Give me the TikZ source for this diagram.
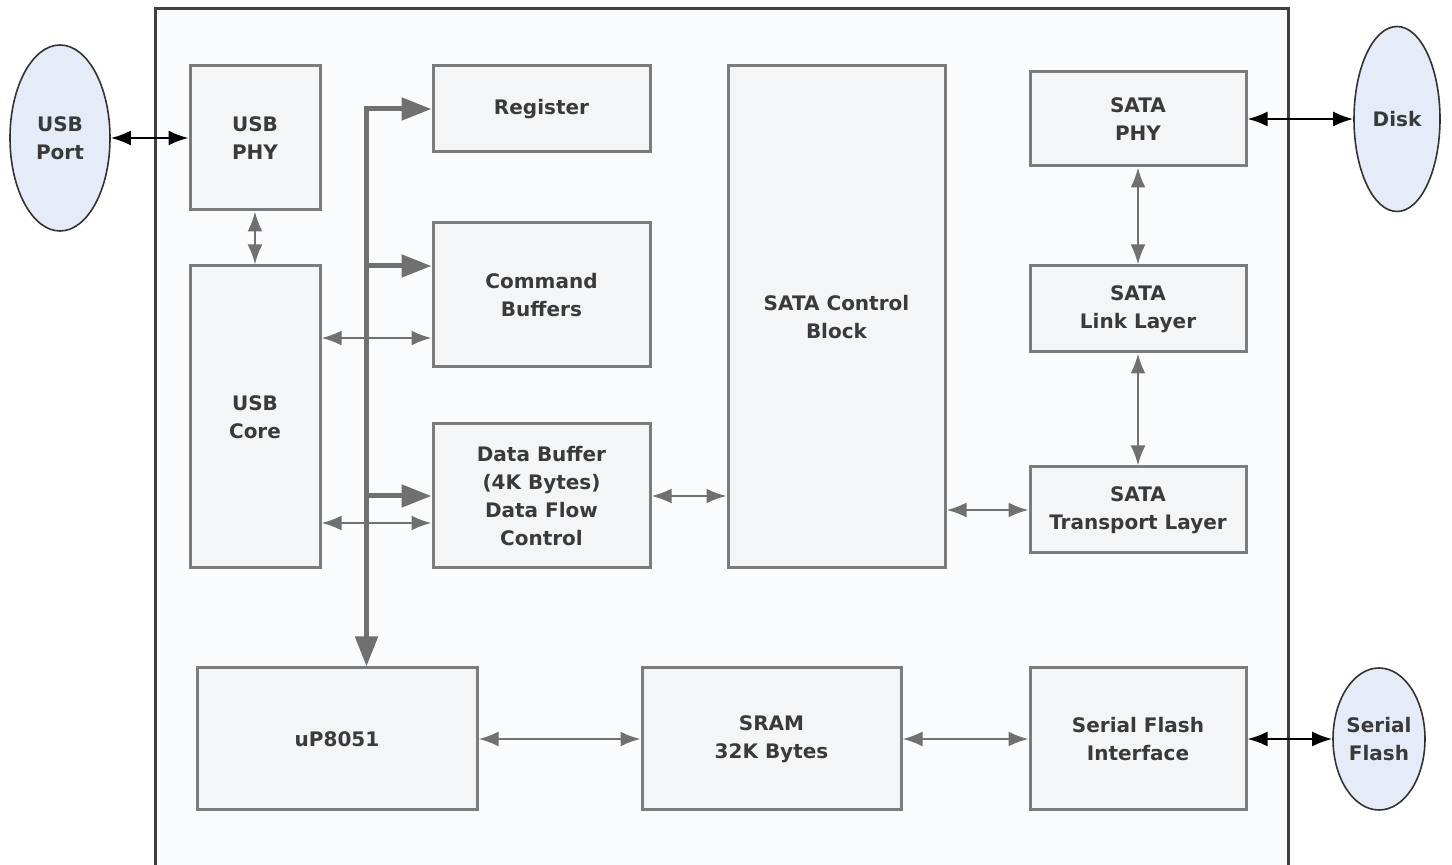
\documentclass[tikz,border=0pt]{standalone}
\usepackage{fontspec}
\setmainfont{DejaVu Sans}
\usetikzlibrary{arrows.meta, shapes.geometric}
\definecolor{boxfill}{HTML}{F4F5F7}
\definecolor{chipfill}{HTML}{FAFBFD}
\definecolor{extfill}{HTML}{E5ECF7}
\definecolor{boxline}{HTML}{7C7C7C}
\definecolor{wire}{HTML}{707070}
\definecolor{txt}{HTML}{3A3A3A}
\begin{document}
\begin{tikzpicture}[x=0.5pt, y=0.5pt,
    blk/.style={draw=boxline, fill=boxfill, line width=1.5pt, align=center, text=txt,
        font=\fontsize{10}{14}\selectfont\bfseries, inner sep=0pt},
    ext/.style={draw=black!80, fill=extfill, line width=0.8pt, ellipse, align=center, text=txt,
        font=\fontsize{10}{14}\selectfont\bfseries, inner sep=0pt},
    link/.style={draw=wire, line width=1.2pt, {Latex[length=10pt,width=7.5pt]}-{Latex[length=10pt,width=7.5pt]}},
    outlink/.style={draw=black, line width=1.1pt, {Latex[length=10pt,width=7.5pt]}-{Latex[length=10pt,width=7.5pt]}},
    bus/.style={draw=wire, line width=2.5pt, -{Triangle[length=15pt,width=11pt]}}]
        \useasboundingbox (0, 0) rectangle (1452, -865);
        
        % chip outline
        \fill[chipfill] (155, -865) rectangle (1288, -9);
        \draw[black!75, line width=1.5pt] (155, -866) -- (155, -9) -- (1288, -9) -- (1288, -866);
        
        % outside parts
        \node (usbport) at (60, -138) [ext, minimum width=50pt, minimum height=93pt] {USB\\Port};
        \node (disk) at (1397, -119) [ext, minimum width=43pt, minimum height=92.5pt] {Disk};
        \node (sflash) at (1379, -739) [ext, minimum width=41pt, minimum height=71pt] {Serial\\Flash};
        
        % USB side
        \node (usbphy) at (255, -138) [blk, minimum width=65pt, minimum height=72pt] {USB\\PHY};
        \node (usbcore) at (255, -417) [blk, minimum width=65pt, minimum height=151pt] {USB\\Core};
        
        \node (reg) at (541.5, -109) [blk, minimum width=108.5pt, minimum height=43pt] {Register};
        \node (cmd) at (541.5, -295) [blk, minimum width=108.5pt, minimum height=72pt] {Command\\Buffers};
        \node (dbuf) at (541.5, -496) [blk, minimum width=108.5pt, minimum height=72pt] {Data Buffer\\(4K Bytes)\\Data Flow\\Control};
        
        \node (satactl) at (836.5, -317) [blk, minimum width=108.5pt, minimum height=251pt] {SATA Control\\Block};
        
        % SATA side
        \node (sataphy) at (1138, -119) [blk, minimum width=108pt, minimum height=47pt] {SATA\\PHY};
        \node (satalink) at (1138, -309) [blk, minimum width=108pt, minimum height=43pt] {SATA\\Link Layer};
        \node (satatrans) at (1138, -510) [blk, minimum width=108pt, minimum height=43pt] {SATA\\Transport Layer};
        
        % bottom row
        \node (up) at (337, -739) [blk, minimum width=140pt, minimum height=71pt] {uP8051};
        \node (sram) at (771.5, -739) [blk, minimum width=129.5pt, minimum height=71pt] {SRAM\\32K Bytes};
        \node (sfi) at (1138, -739) [blk, minimum width=108pt, minimum height=71pt] {Serial Flash\\Interface};
        
        % bus from uP8051
        \coordinate (bustop) at ([xshift=-32.5pt]reg.west);
        \coordinate (cmdbus) at ([yshift=14.5pt]cmd.west);
        \coordinate (cmdin) at ([yshift=-21.5pt]cmd.west);
        \coordinate (dbufin) at ([yshift=-13.5pt]dbuf.west);
        
        \draw[bus, {Triangle[length=15pt,width=11pt]}-{Triangle[length=15pt,width=11pt]}] (bustop |- up.north) -- (bustop) -- (reg.west);
        \draw[bus] (bustop |- cmdbus) -- (cmdbus);
        \draw[bus] (bustop |- dbuf.west) -- (dbuf.west);
        
        % data paths
        \draw[outlink] (usbport) -- (usbphy);
        \draw[link] (usbphy) -- (usbcore);
        \draw[link] (usbcore.east |- cmdin) -- (cmdin);
        \draw[link] (usbcore.east |- dbufin) -- (dbufin);
        \draw[link] (dbuf.east) -- (satactl.west |- dbuf.east);
        \draw[link] (satactl.east |- satatrans.west) -- (satatrans.west);
        \draw[link] (sataphy) -- (satalink);
        \draw[link] (satalink) -- (satatrans);
        \draw[outlink] (sataphy) -- (disk);
        \draw[link] (up) -- (sram);
        \draw[link] (sram) -- (sfi);
        \draw[outlink] (sfi) -- (sflash);
    \end{tikzpicture}
\end{document}
